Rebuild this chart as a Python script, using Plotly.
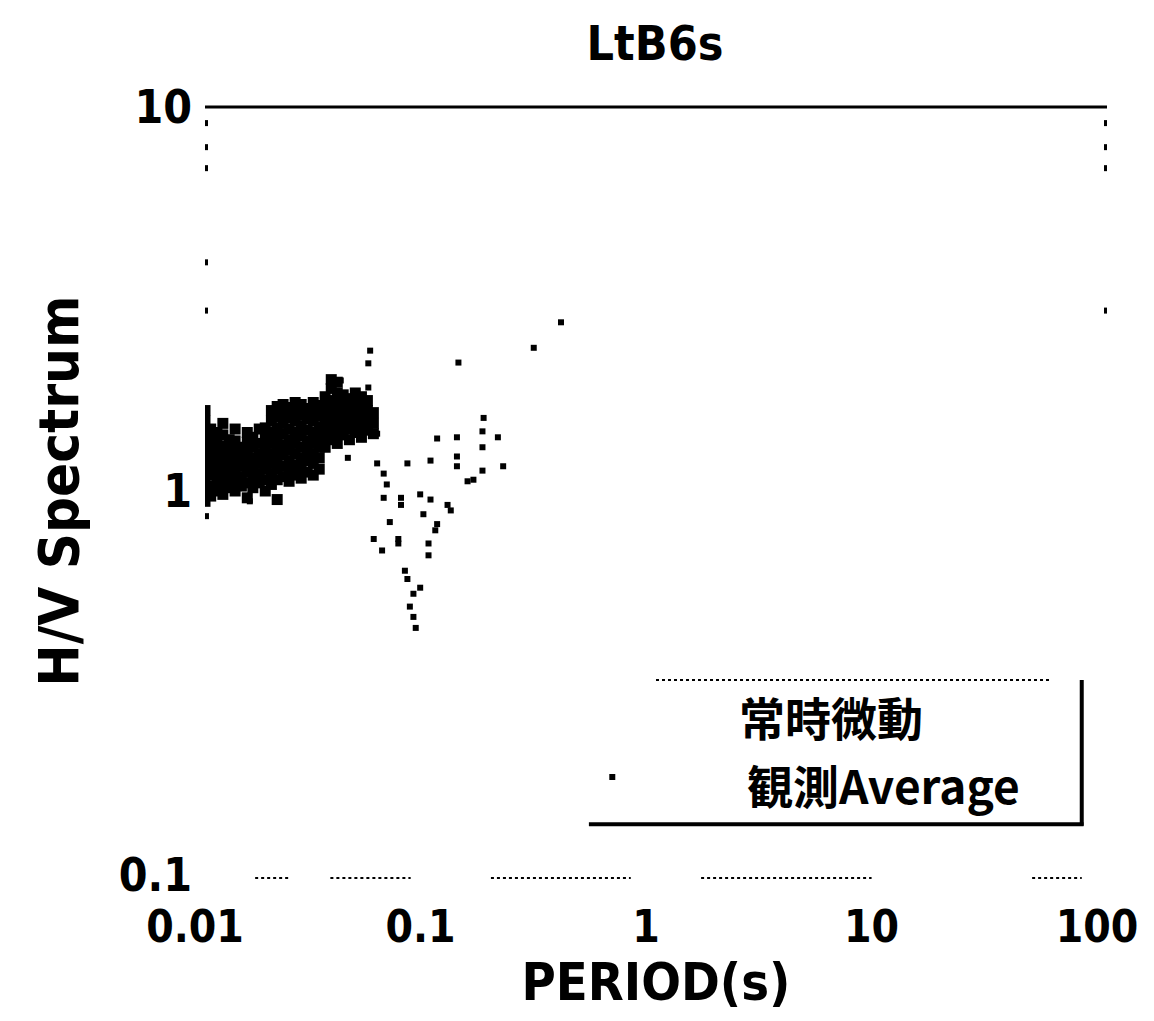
import plotly.graph_objects as go

# ---- data ----
title_text = "LtB6s"
x_title = "PERIOD(s)"
y_title = "H/V Spectrum"
legend_line1 = "常時微動"
legend_line2 = "観測Average"

x_tickvals = [0.01, 0.1, 1, 10, 100]
x_ticktext = ["0.01", "0.1", "1", "10", "100"]
y_tickvals = [0.1, 1, 10]
y_ticktext = ["0.1", "1", "10"]

# dense cloud: one period per column, several H/V values per column
cluster_period = [0.0100, 0.0106, 0.0113, 0.0120, 0.0128, 0.0136, 0.0145, 0.0154,
                  0.0163, 0.0174, 0.0185, 0.0197, 0.0209, 0.0222, 0.0236, 0.0251,
                  0.0267, 0.0284, 0.0302, 0.0321, 0.0341, 0.0363, 0.0386, 0.0410,
                  0.0437, 0.0464, 0.0494, 0.0525, 0.0558]
cluster_hv = [
    [0.94, 1.0, 1.06, 1.13, 1.2, 1.27, 1.35, 1.43, 1.52, 1.62],
    [0.97, 1.03, 1.1, 1.16, 1.23, 1.3, 1.38, 1.45],
    [1.0, 1.06, 1.12, 1.19, 1.26, 1.33, 1.42],
    [0.98, 1.04, 1.1, 1.17, 1.24, 1.31, 1.4, 1.5],
    [1.02, 1.08, 1.15, 1.22, 1.29, 1.36],
    [1.0, 1.06, 1.13, 1.2, 1.27, 1.35, 1.45],
    [1.03, 1.09, 1.16, 1.23, 1.3],
    [0.96, 1.05, 1.12, 1.19, 1.26, 1.34, 1.42],
    [1.02, 1.08, 1.15, 1.22, 1.3, 1.38],
    [1.05, 1.11, 1.18, 1.25, 1.33, 1.45],
    [1.0, 1.07, 1.14, 1.21, 1.29, 1.37, 1.46],
    [1.04, 1.11, 1.18, 1.25, 1.33, 1.42, 1.52, 1.62],
    [0.95, 1.07, 1.14, 1.21, 1.29, 1.37, 1.46, 1.56, 1.66],
    [1.09, 1.16, 1.24, 1.32, 1.41, 1.5, 1.6, 1.68],
    [1.06, 1.13, 1.2, 1.28, 1.36, 1.45, 1.55, 1.65],
    [1.1, 1.17, 1.25, 1.33, 1.42, 1.52, 1.62, 1.7],
    [1.08, 1.15, 1.22, 1.3, 1.39, 1.48, 1.58, 1.68],
    [1.12, 1.2, 1.27, 1.35, 1.44, 1.54, 1.64],
    [1.1, 1.18, 1.25, 1.33, 1.42, 1.52, 1.62, 1.7],
    [1.14, 1.22, 1.3, 1.38, 1.47, 1.57, 1.67],
    [1.3, 1.38, 1.47, 1.56, 1.66, 1.76],
    [1.36, 1.44, 1.53, 1.62, 1.72, 1.85, 1.95],
    [1.33, 1.42, 1.51, 1.6, 1.7, 1.8, 1.92],
    [1.4, 1.49, 1.58, 1.68, 1.78],
    [1.36, 1.45, 1.54, 1.64, 1.74],
    [1.42, 1.51, 1.6, 1.7, 1.8],
    [1.38, 1.47, 1.56, 1.66, 1.76],
    [1.44, 1.53, 1.62, 1.72],
    [1.41, 1.5, 1.6],
]

# isolated points
scatter_period = [0.0100, 0.0100, 0.0100, 0.0100, 0.0100, 0.0101, 0.0101, 0.0101,
                  0.0158, 0.0209,
                  100, 100, 100, 100,
                  0.054, 0.053, 0.133, 0.053, 0.040, 0.287, 0.379,
                  0.172, 0.17, 0.17, 0.17, 0.199, 0.21,
                  0.107, 0.131, 0.131, 0.131, 0.079, 0.100, 0.146, 0.155, 0.043,
                  0.058, 0.058, 0.062, 0.064, 0.062, 0.074, 0.074, 0.090, 0.100,
                  0.119, 0.123, 0.093, 0.066, 0.107, 0.105, 0.056, 0.072, 0.072,
                  0.061, 0.098, 0.098, 0.077, 0.079, 0.090, 0.084, 0.081, 0.084,
                  0.086, 0.64]
scatter_hv = [9.08, 7.86, 6.93, 3.94, 2.95, 1.62, 0.94, 0.86,
              0.94, 0.94,
              9.08, 7.86, 6.93, 2.95,
              2.32, 2.15, 2.16, 1.86, 1.94, 2.36, 2.75,
              1.55, 1.43, 1.3, 1.13, 1.38, 1.16,
              1.37, 1.38, 1.23, 1.16, 1.18, 1.2, 1.06, 1.07, 1.22,
              1.41, 1.18, 1.11, 1.04, 0.96, 0.96, 0.92, 0.98, 0.95,
              0.92, 0.89, 0.87, 0.83, 0.82, 0.79, 0.75, 0.75, 0.73,
              0.70, 0.73, 0.68, 0.62, 0.59, 0.56, 0.54, 0.50, 0.47,
              0.44, 0.18]

# ---- build flat arrays ----
cx, cy = [], []
for p, vals in zip(cluster_period, cluster_hv):
    for v in vals:
        cx.append(p)
        cy.append(v)

FONT = "DejaVu Sans Condensed, Liberation Sans Narrow, Noto Sans, sans-serif"
CJK = "Noto Sans CJK JP"

fig = go.Figure()
fig.add_trace(go.Scatter(x=cx, y=cy, mode="markers",
                         marker=dict(symbol="square", size=11, color="black"),
                         showlegend=False, hoverinfo="skip"))
fig.add_trace(go.Scatter(x=scatter_period, y=scatter_hv, mode="markers",
                         marker=dict(symbol="square", size=6, color="black"),
                         showlegend=False, hoverinfo="skip"))

shapes = []
# top border (solid)
shapes.append(dict(type="line", xref="paper", yref="paper", x0=0, x1=1, y0=1, y1=1,
                   line=dict(color="black", width=3)))
# bottom border (broken / dotted)
for a, b in [(0.0556, 0.0944), (0.139, 0.228), (0.317, 0.472), (0.55, 0.739), (0.917, 0.972)]:
    shapes.append(dict(type="line", xref="paper", yref="paper", x0=a, x1=b, y0=-0.004, y1=-0.004,
                       line=dict(color="black", width=2, dash="dot")))
# legend box
shapes.append(dict(type="line", xref="paper", yref="paper", x0=0.5, x1=0.939, y0=0.254, y1=0.254,
                   line=dict(color="black", width=2, dash="dot")))
shapes.append(dict(type="line", xref="paper", yref="paper", x0=0.972, x1=0.972, y0=0.254, y1=0.064,
                   line=dict(color="black", width=4)))
shapes.append(dict(type="line", xref="paper", yref="paper", x0=0.4256, x1=0.974, y0=0.066, y1=0.066,
                   line=dict(color="black", width=4)))

annotations = [
    dict(text="<b>" + legend_line1 + "</b>", xref="paper", yref="paper", x=0.694, y=0.207,
         xanchor="center", yanchor="middle", showarrow=False,
         font=dict(family=CJK, size=46, color="black")),
    dict(text="<b>" + legend_line2 + "</b>", xref="paper", yref="paper", x=0.752, y=0.118,
         xanchor="center", yanchor="middle", showarrow=False,
         font=dict(family=CJK, size=46, color="black")),
]

fig.update_layout(
    width=1146, height=1013,
    margin=dict(l=197, r=47, t=99, b=146),
    paper_bgcolor="white", plot_bgcolor="white",
    font=dict(family=FONT, color="black"),
    title=dict(text="<b>" + title_text + "</b>", x=(655 - 8) / 1146, xanchor="center",
               y=1 - 35 / 1013, yanchor="middle", yref="container",
               font=dict(family=FONT, size=48, color="black")),
    shapes=shapes,
    annotations=annotations,
    xaxis=dict(type="log", range=[-2, 2], showgrid=False, zeroline=False, showline=False,
               automargin=False,
               ticks="", tickvals=x_tickvals, ticktext=["<b>" + t + "</b>" for t in x_ticktext],
               tickfont=dict(family=FONT, size=44), ticklabelstandoff=22,
               ticklabelshift=-10, ticklabeloverflow="allow",
               title=dict(text="<b>" + x_title + "</b>", standoff=12,
                          font=dict(family=FONT, size=52))),
    yaxis=dict(type="log", range=[-1, 1], showgrid=False, zeroline=False, showline=False,
               automargin=False,
               ticks="", tickvals=y_tickvals, ticktext=["<b>" + t + "</b>" for t in y_ticktext],
               tickfont=dict(family=FONT, size=46), ticklabelstandoff=12,
               title=dict(text="<b>" + y_title + "</b>", standoff=22,
                          font=dict(family=FONT, size=56))),
)

fig.write_html("out.html")
